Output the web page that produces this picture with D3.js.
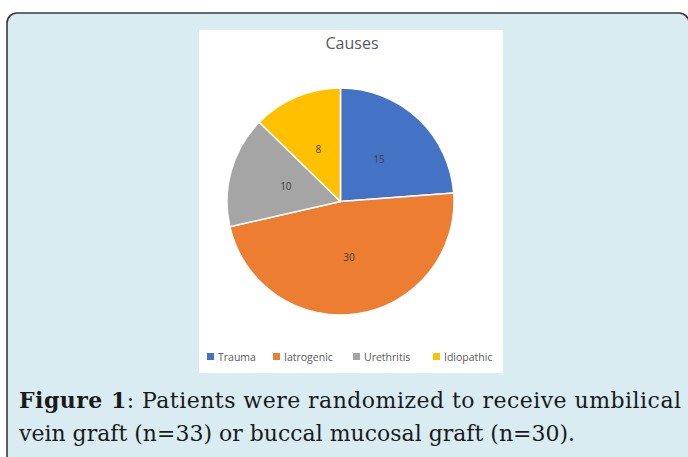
<!DOCTYPE html>
<html>
<head>
<meta charset="utf-8">
<script src="https://cdn.jsdelivr.net/npm/d3@7"></script>
<style>
  html, body { margin: 0; padding: 0; background: #ffffff; }
  svg { display: block; }
</style>
</head>
<body>
<svg id="fig" width="688" height="457"></svg>
<script>
// Causes of stricture (counts per group)
const categories = ["Trauma", "Iatrogenic", "Urethritis", "Idiopathic"];
const values = [15, 30, 10, 8];
const colors = ["#4472C4", "#ED7D31", "#A5A5A5", "#FFC000"];
const chartTitle = "Causes";
const captionBold = "Figure 1";
const captionLine1 = ": Patients were randomized to receive umbilical";
const captionLine2 = "vein graft (n=33) or buccal mucosal graft (n=30).";

const svg = d3.select("#fig");

// Figure panel with rounded border
svg.append("rect")
  .attr("x", 7).attr("y", 13)
  .attr("width", 682).attr("height", 470)
  .attr("rx", 10).attr("ry", 10)
  .attr("fill", "#d8ecf2")
  .attr("stroke", "#3a3a3a")
  .attr("stroke-width", 1.6);

// White chart area
const chart = { x: 199, y: 30, w: 304, h: 343 };
svg.append("rect")
  .attr("x", chart.x).attr("y", chart.y)
  .attr("width", chart.w).attr("height", chart.h)
  .attr("fill", "#ffffff");

svg.append("text")
  .attr("x", chart.x + chart.w / 2 + 1).attr("y", 49)
  .attr("text-anchor", "middle")
  .attr("font-family", "'Open Sans', sans-serif")
  .attr("font-size", 16)
  .attr("fill", "#595959")
  .text(chartTitle);

// Pie
const cx = 340.5, cy = 201.5, R = 113.5;
const pie = d3.pie().sort(null).value(d => d);
const arcs = pie(values);
const arc = d3.arc().innerRadius(0).outerRadius(R);
const color = d3.scaleOrdinal().domain(categories).range(colors);

const g = svg.append("g").attr("transform", `translate(${cx},${cy})`);
g.selectAll("path.slice")
  .data(arcs)
  .join("path")
  .attr("class", "slice")
  .attr("d", arc)
  .attr("fill", (d, i) => color(categories[i]))
  .attr("stroke", "#ffffff")
  .attr("stroke-width", 1.5)
  .attr("stroke-linejoin", "round");

g.selectAll("text.val")
  .data(arcs)
  .join("text")
  .attr("class", "val")
  .attr("transform", d => `translate(${arc.centroid(d)})`)
  .attr("text-anchor", "middle")
  .attr("dy", "0.35em")
  .attr("font-family", "'Open Sans', sans-serif")
  .attr("font-size", 10)
  .attr("fill", "#404040")
  .text(d => d.data);

// Legend
const legendX = [207, 273, 353, 433];
const legend = svg.append("g");
const items = legend.selectAll("g")
  .data(categories)
  .join("g")
  .attr("transform", (d, i) => `translate(${legendX[i]},357)`);
items.append("rect")
  .attr("x", 0).attr("y", -4)
  .attr("width", 7).attr("height", 7)
  .attr("fill", d => color(d));
items.append("text")
  .attr("x", 11).attr("y", 0)
  .attr("dy", "0.35em")
  .attr("font-family", "'Open Sans', sans-serif")
  .attr("font-size", 10.5)
  .attr("fill", "#595959")
  .text(d => d);

// Caption: size the serif face so the second line fills its width naturally
const cap = svg.append("g")
  .attr("font-family", "'DejaVu Serif', serif")
  .attr("fill", "#1a1a1a");
const t2 = cap.append("text").attr("x", 19).attr("y", 441)
  .attr("font-size", 20)
  .text(captionLine2);
const w2 = t2.node().getComputedTextLength();
const fs = Math.min(22, 20 * 556 / w2);
t2.attr("font-size", fs).attr("textLength", 556).attr("lengthAdjust", "spacing");
const t1 = cap.append("text").attr("x", 19).attr("y", 408)
  .attr("font-size", fs)
  .attr("textLength", 662).attr("lengthAdjust", "spacing");
t1.append("tspan").attr("font-weight", "bold").text(captionBold);
t1.append("tspan").text(captionLine1);
</script>
</body>
</html>
